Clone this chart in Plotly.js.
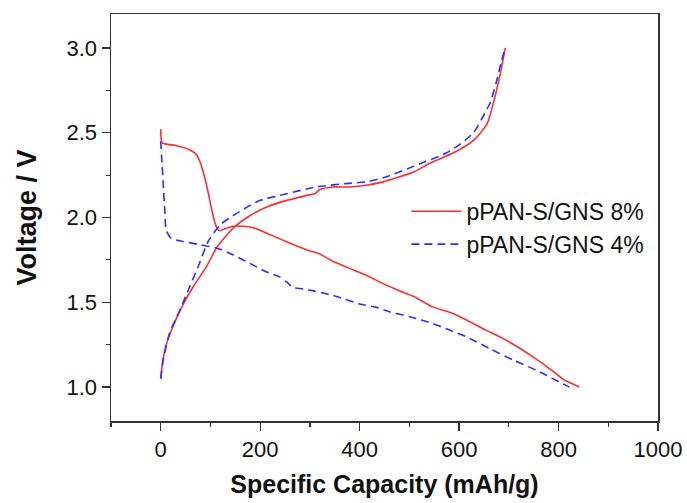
<!DOCTYPE html>
<html><head><meta charset="utf-8">
<script src="https://cdn.plot.ly/plotly-3.0.1.min.js"></script>
<style>html,body{margin:0;padding:0;background:#fff}</style>
</head><body>
<div id="chart" style="width:687px;height:503px"></div>
<script>
// pPAN-S/GNS 8% — discharge then charge
const red_dis_x = [0, 3, 30, 58, 72, 80, 88, 96, 103, 110, 116, 122, 135, 150, 165, 186, 219, 253, 293, 320, 347, 380, 413, 447, 480, 507, 547, 588, 654, 688, 748, 795, 809, 820, 842];
const red_dis_y = [2.52, 2.44, 2.425, 2.40, 2.37, 2.32, 2.24, 2.14, 2.04, 1.96, 1.925, 1.925, 1.94, 1.95, 1.948, 1.94, 1.90, 1.857, 1.81, 1.785, 1.74, 1.70, 1.66, 1.61, 1.568, 1.537, 1.473, 1.434, 1.336, 1.287, 1.18, 1.08, 1.045, 1.03, 1.0];
const red_chg_x = [0, 4, 11, 25, 42, 65, 92, 112, 145, 179, 212, 246, 280, 300, 310, 320, 347, 380, 413, 447, 480, 510, 541, 588, 629, 656, 672, 683, 693];
const red_chg_y = [1.05, 1.15, 1.25, 1.36, 1.47, 1.59, 1.71, 1.82, 1.935, 2.01, 2.06, 2.095, 2.12, 2.135, 2.14, 2.165, 2.18, 2.18, 2.19, 2.21, 2.24, 2.27, 2.32, 2.38, 2.455, 2.55, 2.71, 2.85, 3.0];
// pPAN-S/GNS 4% — discharge then charge
const blue_dis_x = [0, 3, 5, 8, 11, 20, 31, 78, 112, 145, 179, 212, 239, 253, 266, 293, 347, 400, 434, 460, 501, 547, 581, 614, 661, 708, 755, 815, 822];
const blue_dis_y = [2.45, 2.30, 2.20, 2.05, 1.925, 1.88, 1.867, 1.84, 1.82, 1.78, 1.73, 1.68, 1.65, 1.62, 1.588, 1.576, 1.54, 1.49, 1.47, 1.444, 1.415, 1.375, 1.336, 1.297, 1.228, 1.16, 1.10, 1.01, 1.0];
const blue_chg_x = [0, 5, 18, 38, 58, 78, 95, 119, 145, 179, 199, 253, 312, 373, 413, 454, 507, 574, 601, 629, 649, 663, 675, 685, 693];
const blue_chg_y = [1.05, 1.16, 1.32, 1.45, 1.59, 1.73, 1.857, 1.955, 2.01, 2.07, 2.10, 2.14, 2.18, 2.20, 2.21, 2.24, 2.30, 2.38, 2.43, 2.50, 2.60, 2.68, 2.80, 2.92, 3.0];

const seriesNames = ['pPAN-S/GNS 8%', 'pPAN-S/GNS 4%'];
const xTickVals = [0, 200, 400, 600, 800, 1000];
const yTickVals = [1.0, 1.5, 2.0, 2.5, 3.0];

const FONT = 'Liberation Sans, Arial, sans-serif';
const redLine = {color: '#ff2e2e', width: 1.6};
const blueLine = {color: '#2e2eff', width: 1.6, dash: '8px,5px'};

const traces = [
  {x: red_dis_x, y: red_dis_y, mode: 'lines', line: redLine, name: seriesNames[0], legendgroup: 'r'},
  {x: red_chg_x, y: red_chg_y, mode: 'lines', line: redLine, name: seriesNames[0], legendgroup: 'r', showlegend: false},
  {x: blue_dis_x, y: blue_dis_y, mode: 'lines', line: blueLine, name: seriesNames[1], legendgroup: 'b'},
  {x: blue_chg_x, y: blue_chg_y, mode: 'lines', line: blueLine, name: seriesNames[1], legendgroup: 'b', showlegend: false}
];
traces.forEach(t => { t.line = Object.assign({shape: 'spline', smoothing: 0.6}, t.line); });

const axisCommon = {
  showgrid: false, zeroline: false, showline: true, mirror: true,
  linecolor: '#333', linewidth: 1.5,
  ticks: 'outside', ticklen: 8, tickwidth: 1.3, tickcolor: '#333',
  tickfont: {family: FONT, size: 22, color: '#111'}
};

const layout = {
  width: 687, height: 503,
  margin: {l: 111, r: 29, t: 14, b: 82},
  paper_bgcolor: '#fff', plot_bgcolor: '#fff',
  showlegend: true,
  legend: {
    x: 0.54, y: 0.568, xanchor: 'left', yanchor: 'top',
    bgcolor: 'rgba(0,0,0,0)', itemwidth: 50, tracegroupgap: 0,
    font: {family: FONT, size: 23, color: '#111'}
  },
  xaxis: Object.assign({}, axisCommon, {
    range: [-100, 1000], tickvals: xTickVals, ticktext: xTickVals.map(String),
    minor: {dtick: 100, tick0: 0, ticks: 'outside', ticklen: 4, tickcolor: '#333', tickwidth: 1.2},
    title: {text: '<b>Specific Capacity (mAh/g)</b>', standoff: 14,
      font: {family: FONT, size: 25, color: '#111'}}
  }),
  yaxis: Object.assign({}, axisCommon, {
    range: [0.8, 3.2], tickvals: yTickVals, ticktext: yTickVals.map(v => v.toFixed(1)),
    minor: {dtick: 0.25, tick0: 0, ticks: 'outside', ticklen: 4, tickcolor: '#333', tickwidth: 1.2},
    title: {text: '<b>Voltage / V</b>', standoff: 22,
      font: {family: FONT, size: 27, color: '#111'}}
  })
};

Plotly.newPlot('chart', traces, layout, {displayModeBar: false, staticPlot: true});
</script>
</body></html>
